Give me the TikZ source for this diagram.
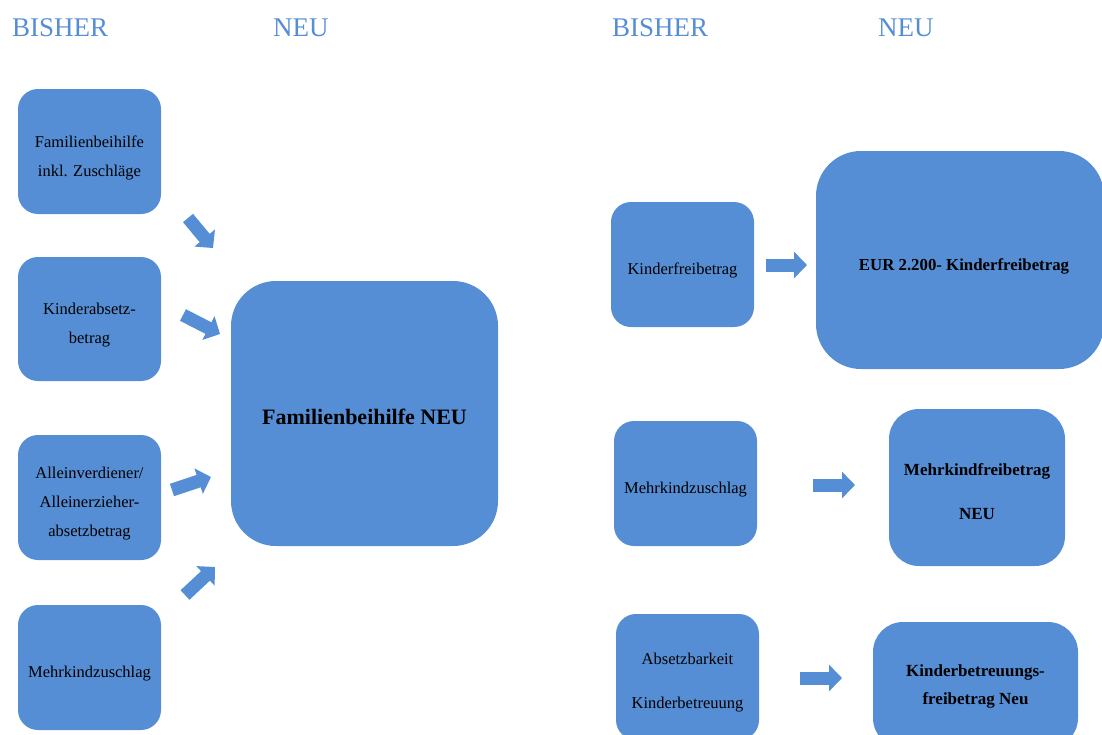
\documentclass[tikz,border=0pt]{standalone}
\usepackage{fontspec}
\setmainfont{Liberation Serif}
\usetikzlibrary{arrows.meta}
\definecolor{boxblue}{HTML}{558ED5}
\tikzset{
  box/.style={fill=boxblue, rounded corners=20pt, inner sep=0pt},
  bigbox/.style={box, rounded corners=45pt},
  midbox/.style={box, rounded corners=30pt},
  lbl/.style={inner sep=0pt, align=center, yshift=-6pt, font=\fontsize{16.5}{29}\selectfont},
  txt/.style={label={[lbl]center:{#1}}},
  btxt/.style={label={[lbl, font=\fontsize{17}{28}\selectfont\bfseries]center:{#1}}},
  head/.style={text=boxblue, font=\fontsize{27}{30}\selectfont, anchor=base west, inner sep=0pt},
  barrow/.style={draw=boxblue, line width=13pt, -{Triangle[width=26pt,length=13pt]}}
}
\begin{document}
\begin{tikzpicture}[x=1pt,y=-1pt]
\useasboundingbox (0,0) rectangle (1102,734);
\clip (0,0) rectangle (1102,734);

% headers
\node[head] (h1) at (12,36) {BISHER};
\node[head] (h2) at (273,36) {NEU};
\node[head] (h3) at (612,36) {BISHER};
\node[head] (h4) at (878,36) {NEU};

% left column
\node[box, minimum width=143pt, minimum height=125pt, txt={Familienbeihilfe\\inkl. Zuschläge}] (b1) at (89.5,151.5) {};
\node[box, minimum width=143pt, minimum height=124pt, txt={Kinderabsetz-\\betrag}] (b2) at (89.5,319) {};
\node[box, minimum width=143pt, minimum height=125pt, txt={Alleinverdiener/\\Alleinerzieher-\\absetzbetrag}] (b3) at (89.5,497.5) {};
\node[box, minimum width=143pt, minimum height=125pt, txt={Mehrkindzuschlag}] (b4) at (89.5,667.5) {};

\node[bigbox, minimum width=267pt, minimum height=265pt,
  label={[lbl, yshift=3pt, font=\fontsize{22}{26}\selectfont\bfseries]center:Familienbeihilfe NEU}] (big) at (364.5,413.5) {};

% left arrows
\coordinate (a1s) at (188,218); \coordinate (a1e) at (213,248);
\coordinate (a2s) at (183,315); \coordinate (a2e) at (220,334);
\coordinate (a3s) at (172,490); \coordinate (a3e) at (211,477);
\coordinate (a4s) at (185,595); \coordinate (a4e) at (215,567);
\draw[barrow] (a1s) -- (a1e);
\draw[barrow] (a2s) -- (a2e);
\draw[barrow] (a3s) -- (a3e);
\draw[barrow] (a4s) -- (a4e);

% right side
\node[box, minimum width=143pt, minimum height=125pt, txt={Kinderfreibetrag}] (r1) at (682.5,264.5) {};
\node[bigbox, minimum width=288pt, minimum height=218pt,
  label={[lbl, font=\fontsize{16.8}{20}\selectfont\bfseries]center:\hspace*{8pt}EUR 2.200- Kinderfreibetrag}] (n1) at (960,260) {};

\node[box, minimum width=143pt, minimum height=125pt, txt={Mehrkindzuschlag}] (r2) at (685.5,483.5) {};
\node[midbox, minimum width=176pt, minimum height=157pt,
  label={[lbl, yshift=2pt, font=\fontsize{17}{44}\selectfont\bfseries]center:{Mehrkindfreibetrag\\NEU}}] (n2) at (977,487.5) {};

\node[box, minimum width=143pt, minimum height=126pt,
  label={[lbl, font=\fontsize{16.5}{44}\selectfont]center:{Absetzbarkeit\\Kinderbetreuung}}] (r3) at (687.5,677) {};
\node[midbox, minimum width=205pt, minimum height=126pt,
  label={[lbl, yshift=5pt, font=\fontsize{17}{28}\selectfont\bfseries]center:{Kinderbetreuungs-\\freibetrag Neu}}] (n3) at (975.5,685) {};

% right arrows
\coordinate (c1s) at (766,265); \coordinate (c1e) at (807,265);
\coordinate (c2s) at (813,485); \coordinate (c2e) at (855,485);
\coordinate (c3s) at (800,678); \coordinate (c3e) at (842,678);
\draw[barrow] (c1s) -- (c1e);
\draw[barrow] (c2s) -- (c2e);
\draw[barrow] (c3s) -- (c3e);
\end{tikzpicture}
\end{document}
